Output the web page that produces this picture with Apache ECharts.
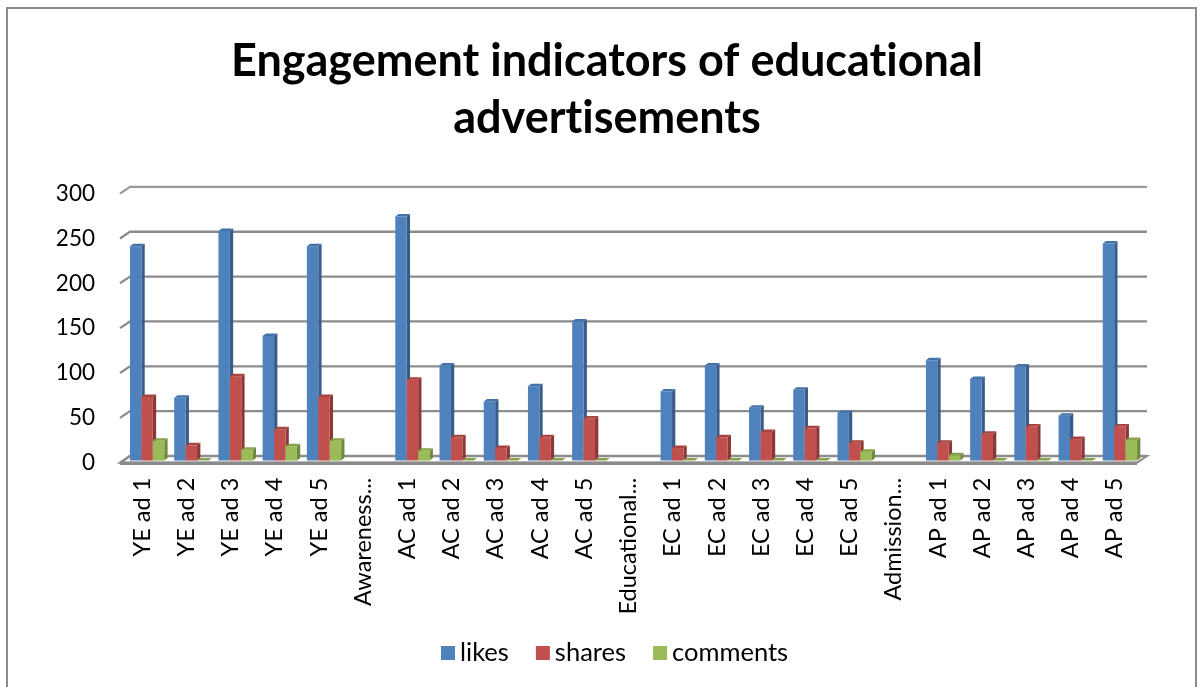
<!DOCTYPE html>
<html>
<head>
<meta charset="utf-8">
<script src="https://cdn.jsdelivr.net/npm/echarts@6/dist/echarts.min.js"></script>
<style>
  html, body { margin: 0; padding: 0; background: #ffffff; }
  #chart { width: 1200px; height: 687px; }
</style>
</head>
<body>
<div id="chart"></div>
<script>
// Ad categories (empty slots separate the four campaign groups)
const categories = [
  'YE ad 1', 'YE ad 2', 'YE ad 3', 'YE ad 4', 'YE ad 5', 'Awareness...',
  'AC ad 1', 'AC ad 2', 'AC ad 3', 'AC ad 4', 'AC ad 5', 'Educational...',
  'EC ad 1', 'EC ad 2', 'EC ad 3', 'EC ad 4', 'EC ad 5', 'Admission...',
  'AP ad 1', 'AP ad 2', 'AP ad 3', 'AP ad 4', 'AP ad 5'
];
const likes = [
  239, 70, 256, 139, 239, null,
  272, 106, 66, 83, 155, null,
  77, 106, 59, 79, 53, null,
  112, 91, 105, 50, 242
];
const shares = [
  71, 17, 94, 35, 71, null,
  90, 26, 14, 26, 47, null,
  14, 26, 32, 36, 20, null,
  20, 30, 38, 24, 38
];
const comments = [
  22, 0, 12, 16, 22, null,
  11, 0, 0, 0, 0, null,
  0, 0, 0, 0, 10, null,
  6, 0, 0, 0, 23
];
const yTicks = [0, 50, 100, 150, 200, 250, 300];

const FONT = 'Lato';
// ZWNJ keeps "t" and "i" from fusing into a ligature in Lato
const titleText = 'Engagement indicators of educat\u200Cional\nadvert\u200Cisements';

// Depth of the floor / back wall and of each column
const WALL_DX = 10, WALL_DY = -6.7;
const BAR_DX = 3.3, BAR_DY = -2.5;
const BAR_FRONT_DY = -2.1;

const palettes = [
  { front: '#4f81bd', side: '#385d8a', top: '#4372a8' },
  { front: '#c0504d', side: '#8c3836', top: '#a8433f' },
  { front: '#9bbb59', side: '#71893f', top: '#86a34a' }
];

function bandInfo(api, v) {
  const bw = api.size([1, 0])[0];
  const first = api.coord([0, v]);
  const last = api.coord([categories.length - 1, v]);
  return { bw: bw, left: first[0] - bw / 2, right: last[0] + bw / 2, y: first[1] };
}

// Back wall gridlines with their receding left edges, plus the floor slab
function renderWall(params, api) {
  const v = api.value(1);
  const b = bandInfo(api, v);
  const children = [];
  if (v === 0) {
    children.push({
      type: 'polygon',
      shape: { points: [
        [b.left, b.y], [b.right, b.y],
        [b.right + WALL_DX, b.y + WALL_DY], [b.left + WALL_DX, b.y + WALL_DY]
      ] },
      style: { fill: '#ffffff', stroke: '#8c8c8c', lineWidth: 2 }
    });
    children.push({
      type: 'line',
      shape: { x1: b.left, y1: b.y + 0.5, x2: b.right, y2: b.y + 0.5 },
      style: { stroke: '#8a8a8a', lineWidth: 3.5 }
    });
  }
  children.push({
    type: 'polyline',
    shape: { points: [
      [b.left, b.y], [b.left + WALL_DX, b.y + WALL_DY], [b.right + WALL_DX, b.y + WALL_DY]
    ] },
    style: { fill: null, stroke: v === 300 ? '#9a9a9a' : '#8c8c8c', lineWidth: 2.3 }
  });
  return { type: 'group', children: children };
}

// Columns drawn as front, side and top faces
function makeBarRenderer(k) {
  const pal = palettes[k];
  return function (params, api) {
    const i = api.value(0);
    const v = api.value(1);
    if (v === null || v === undefined || isNaN(v)) return;
    const bw = api.size([1, 0])[0];
    const base = api.coord([i, 0]);
    const top = api.coord([i, v]);
    const barW = bw * 0.2585;
    const x0 = base[0] - bw / 2 + bw * 0.226 + k * barW;
    const x1 = x0 + barW;
    const yb = base[1] + BAR_FRONT_DY;
    const yt = top[1] + BAR_FRONT_DY;
    return {
      type: 'group',
      children: [
        {
          type: 'polygon',
          shape: { points: [[x1, yt], [x1 + BAR_DX, yt + BAR_DY], [x1 + BAR_DX, yb + BAR_DY], [x1, yb]] },
          style: { fill: pal.side }
        },
        {
          type: 'rect',
          shape: { x: x0, y: yt, width: barW, height: yb - yt },
          style: { fill: pal.front }
        },
        {
          type: 'polygon',
          shape: { points: [[x0, yt], [x0 + BAR_DX, yt + BAR_DY], [x1 + BAR_DX, yt + BAR_DY], [x1, yt]] },
          style: { fill: pal.top }
        }
      ]
    };
  };
}

const seriesDefs = [
  { name: 'likes', values: likes },
  { name: 'shares', values: shares },
  { name: 'comments', values: comments }
];

const chart = echarts.init(document.getElementById('chart'), null, { renderer: 'canvas' });

const option = {
  backgroundColor: '#ffffff',
  animation: false,
  title: {
    text: titleText,
    left: 602,
    textAlign: 'center',
    top: 28,
    textStyle: {
      fontFamily: FONT,
      fontWeight: 'bold',
      fontSize: 45,
      lineHeight: 57,
      color: '#000000'
    }
  },
  legend: {
    data: seriesDefs.map(s => s.name),
    left: 436,
    top: 635,
    icon: 'rect',
    itemWidth: 14,
    itemHeight: 14,
    itemGap: 27,
    textStyle: { fontFamily: FONT, fontSize: 25.5, color: '#000000' }
  },
  grid: {
    left: 120,
    right: 63,
    top: 193.6,
    bottom: 224.3,
    containLabel: false
  },
  xAxis: {
    type: 'category',
    data: categories,
    axisLine: { show: false },
    axisTick: { show: false },
    axisLabel: {
      rotate: 90,
      interval: 0,
      margin: 15,
      fontFamily: FONT,
      fontSize: 23.5,
      color: '#000000'
    },
    splitLine: { show: false }
  },
  yAxis: {
    type: 'value',
    min: 0,
    max: 300,
    interval: 50,
    axisLine: { show: false },
    axisTick: { show: false },
    splitLine: { show: false },
    axisLabel: {
      margin: 25,
      fontFamily: FONT,
      fontSize: 22.5,
      color: '#000000'
    }
  },
  graphic: [
    {
      type: 'rect',
      shape: { x: 7, y: 8, width: 1189, height: 700 },
      style: { fill: null, stroke: '#8a8a8a', lineWidth: 2 },
      silent: true,
      z: 100
    }
  ],
  series: [
    {
      type: 'custom',
      name: 'wall',
      renderItem: renderWall,
      data: yTicks.map(v => [0, v]),
      encode: { x: 0, y: 1 },
      silent: true,
      z: 1
    }
  ].concat(seriesDefs.map((s, k) => ({
    type: 'custom',
    name: s.name,
    renderItem: makeBarRenderer(k),
    data: s.values.map((v, i) => [i, v]),
    encode: { x: 0, y: 1 },
    itemStyle: { color: palettes[k].front },
    z: 2 + k
  })))
};

chart.setOption(option);
</script>
</body>
</html>
